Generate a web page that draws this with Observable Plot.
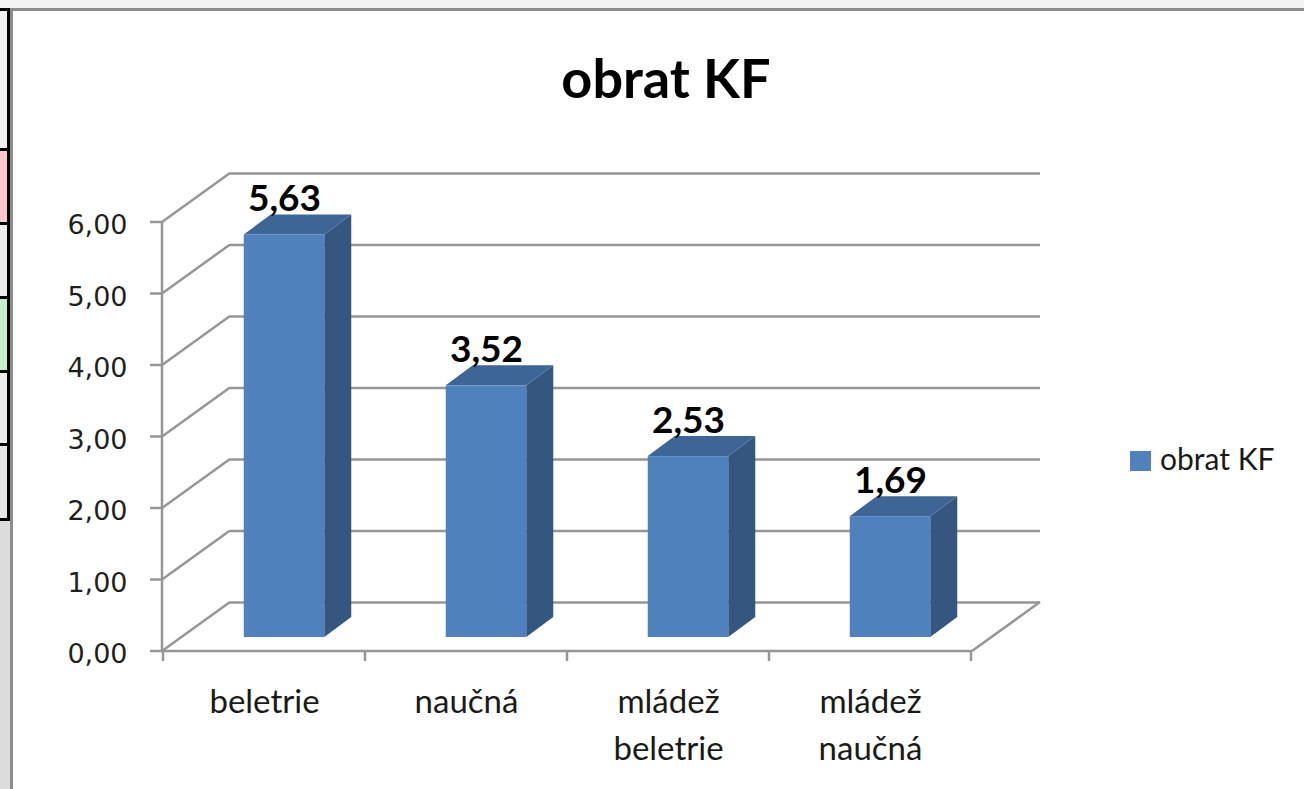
<!DOCTYPE html>
<html>
<head>
<meta charset="utf-8">
<script src="https://cdn.jsdelivr.net/npm/d3@7"></script>
<script src="https://cdn.jsdelivr.net/npm/@observablehq/plot@0.6"></script>
<style>
  html, body { margin: 0; padding: 0; }
  body { width: 1304px; height: 789px; overflow: hidden; position: relative; background: #ffffff; font-family: Lato, sans-serif; }
  .abs { position: absolute; }
  #topstrip { left: 0; top: 0; width: 1304px; height: 8px; background: #f3f3f3; }
  #topline { left: 11px; top: 8px; width: 1293px; height: 3px; background: #8c8c8c; }
  #leftline { left: 10px; top: 8px; width: 3px; height: 781px; background: #8c8c8c; }
  #leftbg { left: 0; top: 0; width: 10px; height: 789px; background: #dcdcdc; }
  .cell { left: 0; width: 7px; border-right: 3px solid #000; border-bottom: 3px solid #000; }
  #chart { left: 13px; top: 11px; width: 1291px; height: 778px; background: #fff; }
  #title { left: 0; width: 1332px; top: 45px; text-align: center; font-family: Lato, sans-serif; font-weight: bold; font-size: 54px; line-height: 66px; color: #000; }
  #legend { left: 1130px; top: 442px; font-family: Lato, sans-serif; font-size: 30px; line-height: 32px; color: #1a1a1a; white-space: nowrap; }
  #legend .sw { display: inline-block; width: 21px; height: 20px; background: #4f81bd; vertical-align: -1px; margin-right: 9px; }
</style>
</head>
<body>
<div id="leftbg" class="abs"></div>
<div class="abs cell" style="top:8px;height:137px;background:#f0f0f0;border-top:3px solid #000"></div>
<div class="abs cell" style="top:151px;height:71px;background:#ffc7ce"></div>
<div class="abs cell" style="top:225px;height:71px;background:#ececec"></div>
<div class="abs cell" style="top:299px;height:71px;background:#c6efce"></div>
<div class="abs cell" style="top:373px;height:70px;background:#ececec"></div>
<div class="abs cell" style="top:446px;height:72px;background:#e6e6e6"></div>
<div id="topstrip" class="abs"></div>
<div id="topline" class="abs"></div>
<div id="leftline" class="abs"></div>
<div id="chart" class="abs"></div>
<div id="title" class="abs">obrat KF</div>
<div id="legend" class="abs"><span class="sw"></span>obrat KF</div>
<script>
// ---- data ----
const categories = ["beletrie", "naučná", "mládež beletrie", "mládež naučná"];
const values = [5.63, 3.52, 2.53, 1.69];
const yTicks = [0, 1, 2, 3, 4, 5, 6];
const seriesName = "obrat KF";

const rows = categories.map((c, i) => ({cat: c, value: values[i]}));
const fmt = v => v.toFixed(2).replace(".", ",");

// ---- style constants (pixels) ----
const GRID = "#969696";
const GW = 2.5;
const DEPTH = [68, -49];      // wall depth offset
const FRONT = [20, -14];      // bar front face offset from front plane
const BD = [27, -20];         // bar depth
const INSET = 60.75;          // bar inset within band
const FRONT_FILL = "#4f81bd", SIDE_FILL = "#35577f", TOP_FILL = "#3d6697";

function frame3d(index, scales, values_, dims) {
  const {x, y} = scales;
  const left = dims.marginLeft, right = dims.width - dims.marginRight;
  const y0 = y(0);
  const g = d3.create("svg:g").attr("stroke", GRID).attr("stroke-width", GW).attr("fill", "none");
  const line = (x1, y1, x2, y2) => g.append("line").attr("x1", x1).attr("y1", y1).attr("x2", x2).attr("y2", y2);
  for (const t of yTicks) {
    line(left, y(t), left + DEPTH[0], y(t) + DEPTH[1]);   // left wall
    line(left - 12, y(t), left, y(t));                    // y ticks
  }
  line(right, y0, right + DEPTH[0], y0 + DEPTH[1]);       // floor right edge
  line(left, y0, right, y0);                              // floor front edge
  line(left, y(yTicks[yTicks.length - 1]), left, y0);     // y axis
  const bounds = categories.map(c => x(c)).concat([x(categories[categories.length - 1]) + x.bandwidth()]);
  for (const b of bounds) line(b, y0, b, y0 + 10);
  return g.node();
}

function bars3d(index, scales) {
  const {x, y} = scales;
  const g = d3.create("svg:g").attr("stroke", "none");
  for (const d of rows) {
    const xl = x(d.cat) + INSET + FRONT[0];
    const xr = x(d.cat) + x.bandwidth() - INSET + FRONT[0];
    const yt = y(d.value) + FRONT[1];
    const yb = y(0) + FRONT[1];
    g.append("polygon").attr("fill", SIDE_FILL)
      .attr("points", [[xr, yb], [xr, yt], [xr + BD[0], yt + BD[1]], [xr + BD[0], yb + BD[1]]].join(" "));
    g.append("polygon").attr("fill", TOP_FILL)
      .attr("points", [[xl, yt], [xr, yt], [xr + BD[0], yt + BD[1]], [xl + BD[0], yt + BD[1]]].join(" "));
  }
  return g.node();
}

const plot = Plot.plot({
  width: 1291,
  height: 778,
  marginLeft: 149,
  marginRight: 332,
  marginTop: 211,
  marginBottom: 138,
  style: {background: "transparent", overflow: "visible"},
  x: {type: "band", domain: categories, padding: 0},
  y: {domain: [0, 6]},
  marks: [
    Plot.ruleY(yTicks, {dx: DEPTH[0], dy: DEPTH[1], stroke: GRID, strokeWidth: GW}),
    frame3d,
    bars3d,
    Plot.barY(rows, {x: "cat", y: "value", fill: FRONT_FILL, insetLeft: INSET, insetRight: INSET, dx: FRONT[0], dy: FRONT[1]}),
    Plot.text(rows, {x: "cat", y: "value", text: d => fmt(d.value), dx: FRONT[0], dy: FRONT[1] - 24, lineAnchor: "bottom",
      fontSize: 37, fontWeight: "bold", fontFamily: "Lato", fill: "#000"}),
    Plot.axisY(yTicks, {tickSize: 0, tickPadding: 35, tickFormat: fmt, dy: 3, fontSize: 27, fontFamily: "DejaVu Sans", label: null, color: "#1f1f1f"}),
    Plot.axisX({tickSize: 0, tickPadding: 29, tickFormat: d => d.replace(" ", "\n"), fontSize: 33, fontFamily: "Lato", lineHeight: 1.4, label: null, color: "#1a1a1a"})
  ]
});
document.getElementById("chart").appendChild(plot);
</script>
</body>
</html>
